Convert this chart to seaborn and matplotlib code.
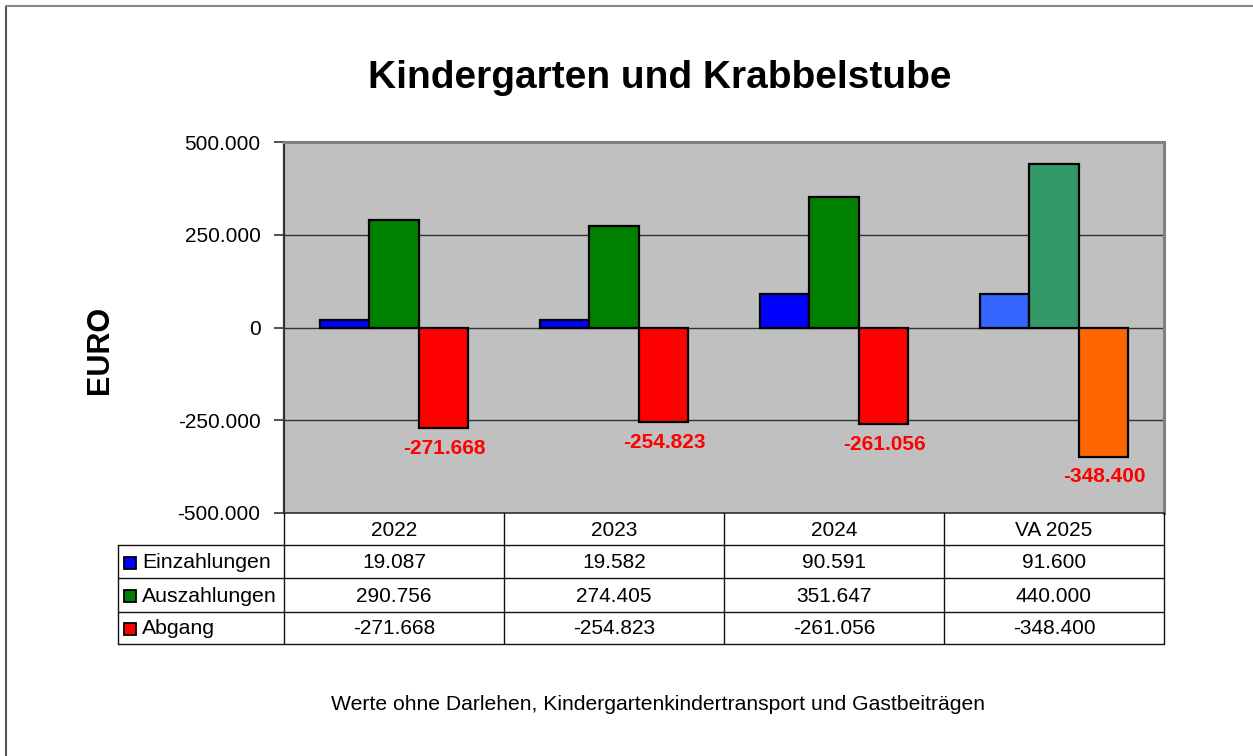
import matplotlib
matplotlib.use("Agg")
import matplotlib.pyplot as plt
import seaborn as sns
import pandas as pd
from matplotlib.patches import Rectangle
from matplotlib.ticker import FuncFormatter

# ---------------- data ----------------
jahre = ["2022", "2023", "2024", "VA 2025"]
einzahlungen = [19087, 19582, 90591, 91600]
auszahlungen = [290756, 274405, 351647, 440000]
abgang = [-271668, -254823, -261056, -348400]
reihen = ["Einzahlungen", "Auszahlungen", "Abgang"]
y_ticks = [-500000, -250000, 0, 250000, 500000]

farben = ["#0000FF", "#008000", "#FF0000"]
farben_va = ["#3366FF", "#339966", "#FF6600"]

titel = "Kindergarten und Krabbelstube"
y_titel = "EURO"
fussnote = "Werte ohne Darlehen, Kindergartenkindertransport und Gastbeiträgen"


def de(v):
    s = f"{abs(v):,}".replace(",", ".")
    return ("-" if v < 0 else "") + s


df = pd.DataFrame({
    "Jahr": jahre * 3,
    "Reihe": [r for r in reihen for _ in jahre],
    "Wert": einzahlungen + auszahlungen + abgang,
})

# ---------------- figure ----------------
W, H = 1253, 756
sns.set_theme(style="white")
plt.rcParams["font.family"] = ["Liberation Sans", "DejaVu Sans"]
plt.rcParams["text.color"] = "black"
plt.rcParams["axes.labelcolor"] = "black"
plt.rcParams["xtick.color"] = "black"
plt.rcParams["ytick.color"] = "black"
fig = plt.figure(figsize=(W / 100, H / 100), dpi=100)

L, R, T, B = 284, 1164, 142, 513
ax = fig.add_axes([L / W, 1 - B / H, (R - L) / W, (B - T) / H])
ax.set_facecolor("#C0C0C0")

sns.barplot(data=df, x="Jahr", y="Wert", hue="Reihe", hue_order=reihen,
            order=jahre, palette=farben, saturation=1, width=0.67,
            edgecolor="black", linewidth=1.6, errorbar=None, legend=False,
            ax=ax, zorder=3)

for ci, cont in enumerate(ax.containers):
    cont[3].set_facecolor(farben_va[ci])
    for bar in cont:
        bar.set_zorder(3)
    if ci == 2:
        for i, bar in enumerate(cont):
            cx = bar.get_x() + bar.get_width() / 2
            ax.annotate(de(abgang[i]), (cx, abgang[i]), xytext=(1, -14.5),
                        textcoords="offset points", ha="center", va="center",
                        color="#FF0000", fontsize=15, fontweight="bold",
                        zorder=5)

ax.set_ylim(-500000, 500000)
ax.set_xlim(-0.5, 3.5)
ax.set_yticks(y_ticks)
ax.yaxis.set_major_formatter(FuncFormatter(lambda v, p: de(int(v))))
ax.tick_params(axis="y", direction="out", length=7, width=1.2, color="#333333",
               labelcolor="black", labelsize=15, pad=10, left=True)
ax.tick_params(axis="x", bottom=False, labelbottom=False)
ax.set_xlabel("")
ax.set_ylabel("")
ax.grid(axis="y", color="#333333", linewidth=1.0, zorder=1)
ax.set_axisbelow(True)
for s in ["top", "right"]:
    ax.spines[s].set_color("#808080")
    ax.spines[s].set_linewidth(2.2)
ax.spines["left"].set_color("#333333")
ax.spines["left"].set_linewidth(1.6)
ax.spines["bottom"].set_color("#333333")
ax.spines["bottom"].set_linewidth(1.2)

# ---------------- overlay (pixel coords) ----------------
ov2 = fig.add_axes([0, 0, 1, 1], zorder=10)
ov2.set_xlim(0, W)
ov2.set_ylim(H, 0)
ov2.axis("off")
ov2.patch.set_alpha(0)

# outer frame
ov2.plot([6, 6], [6, H + 5], color="#555555", lw=1.5)
ov2.plot([6, W + 5], [6, 6], color="#888888", lw=1.5)

fig.text(660 / W, 1 - 78 / H, titel, ha="center", va="center",
         fontsize=28, fontweight="bold", color="black")
fig.text(100 / W, 1 - 350 / H, y_titel, ha="center", va="center",
         rotation=90, fontsize=22, fontweight="bold", color="black")
fig.text(658 / W, 1 - 705 / H, fussnote, ha="center", va="center",
         fontsize=15.2, color="black")

# table
cols = [284, 504, 724, 944, 1164]
rows = [513, 545, 578, 612, 644]
lc = "#111111"
for x in cols:
    ov2.plot([x, x], [rows[0], rows[-1]], color=lc, lw=1.0)
ov2.plot([118, 118], [rows[1], rows[-1]], color=lc, lw=1.0)
for y in rows[1:]:
    ov2.plot([118, cols[-1]], [y, y], color=lc, lw=1.0)

for j, jahr in enumerate(jahre):
    cx = (cols[j] + cols[j + 1]) / 2
    ov2.text(cx, (rows[0] + rows[1]) / 2 + 1, jahr, ha="center", va="center",
             fontsize=15, color="black")

werte = [einzahlungen, auszahlungen, abgang]
for r, name in enumerate(reihen):
    cy = (rows[r + 1] + rows[r + 2]) / 2 + 1
    ov2.add_patch(Rectangle((124, cy - 6), 12, 12, facecolor=farben[r],
                            edgecolor="black", lw=1.3))
    ov2.text(142, cy, name, ha="left", va="center", fontsize=15.3,
             color="black")
    for j in range(len(jahre)):
        cx = (cols[j] + cols[j + 1]) / 2
        ov2.text(cx, cy, de(werte[r][j]), ha="center", va="center",
                 fontsize=15, color="black")

fig.savefig("out.png", dpi=100, facecolor="white")
